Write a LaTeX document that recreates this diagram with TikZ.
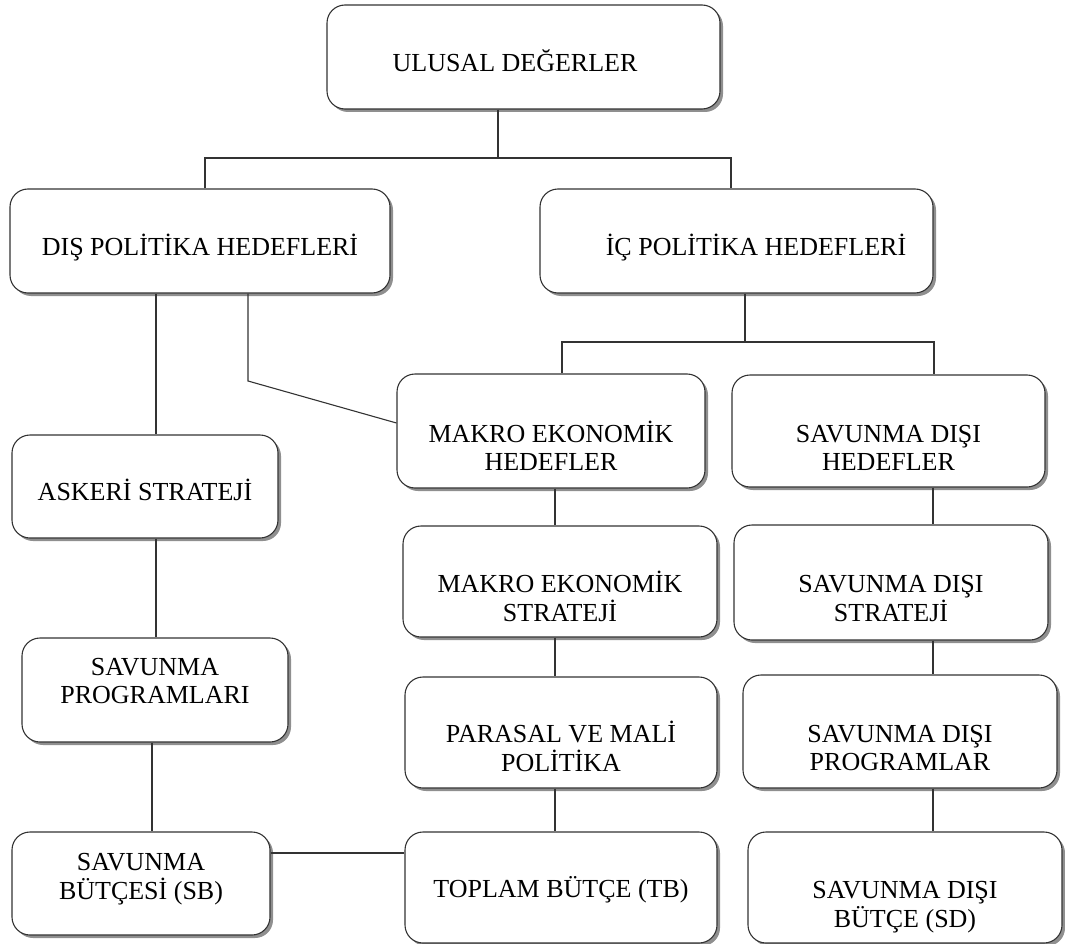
\documentclass[tikz,border=0pt]{standalone}
\usepackage{fontspec}
\setmainfont{Liberation Serif}
\usepackage{tikz}
\usetikzlibrary{shadows}
\usetikzlibrary{calc}
\definecolor{mgray}{rgb}{0.2, 0.2, 0.2}
\definecolor{mshadow}{rgb}{0.45, 0.45, 0.45}
\tikzset{box/.style = {draw=mgray, line width=1.1pt, rounded corners=18pt, fill=white,
                       inner sep=0, drop shadow={shadow xshift=3pt, shadow yshift=-3pt,
                                                 fill=mshadow, opacity=0.8},
                       font=\fontsize{26}{28}\selectfont}}
\tikzset{boxsize/.style 2 args = {minimum width=#1pt, minimum height=#2pt}}
\tikzset{link/.style = {draw=mgray, line width=1.1pt}}
% text of a box: optional sideways space, lift of the first baseline, lines
\newcommand{\boxtext}[3][0pt]{\hspace*{#1}\raisebox{#2}[0pt][0pt]{\begin{tabular}[t]{@{}c@{}}#3\end{tabular}}}

\begin{document}
\begin{tikzpicture}[x=1pt, y=-1pt]
    \useasboundingbox (0, 0) rectangle (1065, 944);

    \node (ulusal) at (523.5, 57) [box, boxsize={393}{104}] {\boxtext[-17pt]{-15pt}{ULUSAL DEĞERLER}};
    \node (dis) at (200, 241) [box, boxsize={380}{104}] {\boxtext{-14pt}{DIŞ POLİTİKA HEDEFLERİ}};
    \node (ic) at (736.5, 241) [box, boxsize={393}{104}] {\boxtext[39pt]{-14pt}{İÇ POLİTİKA HEDEFLERİ}};

    \node (askeri) at (145, 486.5) [box, boxsize={266}{103}] {\boxtext{-13.5pt}{ASKERİ STRATEJİ}};
    \node (programs) at (155, 690) [box, boxsize={266}{104}] {\boxtext{15pt}{SAVUNMA\\PROGRAMLARI}};
    \node (sb) at (141, 883.5) [box, boxsize={258}{103}] {\boxtext{13.5pt}{SAVUNMA\\BÜTÇESİ (SB)}};

    \node (makroh) at (551, 431) [box, boxsize={308}{114}] {\boxtext{-11pt}{MAKRO EKONOMİK\\HEDEFLER}};
    \node (makros) at (560, 581.5) [box, boxsize={314}{111}] {\boxtext{-10.5pt}{MAKRO EKONOMİK\\STRATEJİ}};
    \node (parasal) at (561, 732.5) [box, boxsize={312}{111}] {\boxtext{-9.5pt}{PARASAL VE MALİ\\POLİTİKA}};
    \node (tb) at (561, 887.5) [box, boxsize={312}{111}] {\boxtext{-9.5pt}{TOPLAM BÜTÇE (TB)}};

    \node (sdh) at (888.5, 431) [box, boxsize={313}{112}] {\boxtext{-11pt}{SAVUNMA DIŞI\\HEDEFLER}};
    \node (sds) at (891, 582.5) [box, boxsize={314}{115}] {\boxtext{-9.5pt}{SAVUNMA DIŞI\\STRATEJİ}};
    \node (sdp) at (900, 731.5) [box, boxsize={314}{113}] {\boxtext{-10.5pt}{SAVUNMA DIŞI\\PROGRAMLAR}};
    \node (sd) at (905, 887.5) [box, boxsize={314}{111}] {\boxtext{-10.5pt}{SAVUNMA DIŞI\\BÜTÇE (SD)}};

    % forks
    \coordinate (top) at (498, 158);
    \coordinate (icfork) at (745, 342);
    \draw [link] (ulusal.south -| top) -- (top);
    \draw [link] ([xshift=5pt]dis.north) |- (top) -| ([xshift=-5.5pt]ic.north);
    \draw [link] (ic.south -| icfork) -- (icfork);
    \draw [link] ([xshift=11pt]makroh.north) |- (icfork) -| ([xshift=45.5pt]sdh.north);

    \coordinate (bend) at (248, 381);
    \draw [link] (dis.south -| bend) -- (bend) -- ([yshift=8pt]makroh.west);

    % columns
    \coordinate (leftcol) at (156, 0);
    \coordinate (leftcol2) at (152, 0);
    \coordinate (midcol) at (555, 0);
    \coordinate (rightcol) at (933, 0);
    \foreach \a/\b in {dis/askeri, askeri/programs}
      \draw [link] (\a.south -| leftcol) -- (\b.north -| leftcol);
    \draw [link] (programs.south -| leftcol2) -- (sb.north -| leftcol2);
    \foreach \a/\b in {makroh/makros, makros/parasal, parasal/tb}
      \draw [link] (\a.south -| midcol) -- (\b.north -| midcol);
    \foreach \a/\b in {sdh/sds, sds/sdp, sdp/sd}
      \draw [link] (\a.south -| rightcol) -- (\b.north -| rightcol);

    \coordinate (budget) at (0, 853);
    \draw [link] (sb.east |- budget) -- (tb.west |- budget);
  \end{tikzpicture}
\end{document}
